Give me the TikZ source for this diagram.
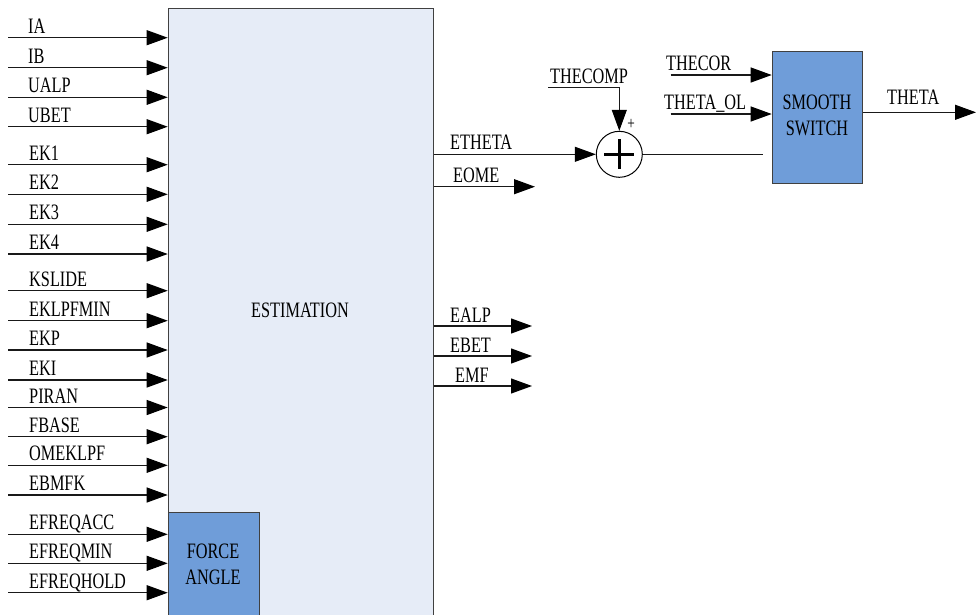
\documentclass[tikz,border=0pt]{standalone}
\usepackage{fontspec}
\setmainfont[FakeStretch=0.74]{Liberation Serif}
\usetikzlibrary{arrows.meta}
\definecolor{estfill}{HTML}{E6ECF7}
\definecolor{blkfill}{HTML}{6F9DD9}
\tikzset{blk/.style={rectangle, draw=black!75, line width=1pt, inner sep=0pt, anchor=north west}}
\tikzset{sig/.style={line width=1.1pt, draw=black!90, -{Triangle[length=21pt,width=15pt,color=black]}}}
\tikzset{wire/.style={line width=1.1pt, draw=black!90}}
\tikzset{lbl/.style={anchor=base west, inner sep=0pt, font=\fontsize{22}{26}\selectfont}}
\tikzset{blktext/.style={align=center, inner sep=0pt, font=\fontsize{22}{26}\selectfont}}

\begin{document}
\begin{tikzpicture}[x=1pt, y=-1pt]

    \clip (0,0) rectangle (976,614);

    % blocks
    \node[blk, fill=estfill, minimum width=265.6pt, minimum height=620pt] (est) at (167.7,8.3) {};
    \node[blktext] (est-t) at (300,310) {ESTIMATION};
    \node[blk, fill=blkfill, minimum width=91.3pt, minimum height=110pt] (force) at (167.7,511.7) {};
    \node[blktext] (force-t) at (213,564) {FORCE\\ANGLE};
    \node[blk, fill=blkfill, minimum width=90.6pt, minimum height=132pt] (sw) at (771.7,50.7) {};
    \node[blktext] (sw-t) at (817,115) {SMOOTH\\SWITCH};
    \node[circle, draw=black, fill=white, line width=1pt, minimum size=46pt, inner sep=0pt] (sum) at (619.3,154.3) {};
    \draw[line width=3pt] (sum.center) +(-15,0) -- +(15,0);
    \draw[line width=3pt] (sum.center) +(0,-15) -- +(0,15);
    \node[inner sep=0pt, font=\fontsize{18}{18}\selectfont] (sum-p) at (631,124) {+};

    % inputs of ESTIMATION
    \coordinate (IA) at (8,37.7);
    \coordinate (IB) at (8,67.7);
    \coordinate (UALP) at (8,97.3);
    \coordinate (UBET) at (8,126.7);
    \coordinate (EK1) at (8,164.7);
    \coordinate (EK2) at (8,194.3);
    \coordinate (EK3) at (8,224.3);
    \coordinate (EK4) at (8,254);
    \coordinate (KSLIDE) at (8,290.7);
    \coordinate (EKLPFMIN) at (8,320.7);
    \coordinate (EKP) at (8,350);
    \coordinate (EKI) at (8,380);
    \coordinate (PIRAN) at (8,407.5);
    \coordinate (FBASE) at (8,436.7);
    \coordinate (OMEKLPF) at (8,465.3);
    \coordinate (EBMFK) at (8,495);
    \coordinate (EFREQACC) at (8,534.3);
    \coordinate (EFREQMIN) at (8,563.3);
    \coordinate (EFREQHOLD) at (8,592.7);

    \draw[sig] (IA) -- (IA -| est.west);
    \draw[sig] (IB) -- (IB -| est.west);
    \draw[sig] (UALP) -- (UALP -| est.west);
    \draw[sig] (UBET) -- (UBET -| est.west);
    \draw[sig] (EK1) -- (EK1 -| est.west);
    \draw[sig] (EK2) -- (EK2 -| est.west);
    \draw[sig] (EK3) -- (EK3 -| est.west);
    \draw[sig] (EK4) -- (EK4 -| est.west);
    \draw[sig] (KSLIDE) -- (KSLIDE -| est.west);
    \draw[sig] (EKLPFMIN) -- (EKLPFMIN -| est.west);
    \draw[sig] (EKP) -- (EKP -| est.west);
    \draw[sig] (EKI) -- (EKI -| est.west);
    \draw[sig] (PIRAN) -- (PIRAN -| est.west);
    \draw[sig] (FBASE) -- (FBASE -| est.west);
    \draw[sig] (OMEKLPF) -- (OMEKLPF -| est.west);
    \draw[sig] (EBMFK) -- (EBMFK -| est.west);
    \draw[sig] (EFREQACC) -- (EFREQACC -| force.west);
    \draw[sig] (EFREQMIN) -- (EFREQMIN -| force.west);
    \draw[sig] (EFREQHOLD) -- (EFREQHOLD -| force.west);

    \node[lbl] (l-IA) at (28,33.2) {IA};
    \node[lbl] (l-IB) at (28,63.2) {IB};
    \node[lbl] (l-UALP) at (28,92.8) {UALP};
    \node[lbl] (l-UBET) at (28,122.2) {UBET};
    \node[lbl] (l-EK1) at (29,160.2) {EK1};
    \node[lbl] (l-EK2) at (29,189.8) {EK2};
    \node[lbl] (l-EK3) at (29,219.8) {EK3};
    \node[lbl] (l-EK4) at (29,249.5) {EK4};
    \node[lbl] (l-KSLIDE) at (29,286.2) {KSLIDE};
    \node[lbl] (l-EKLPFMIN) at (29,316.2) {EKLPFMIN};
    \node[lbl] (l-EKP) at (29,345.5) {EKP};
    \node[lbl] (l-EKI) at (29,375.5) {EKI};
    \node[lbl] (l-PIRAN) at (29,403) {PIRAN};
    \node[lbl] (l-FBASE) at (29,432.2) {FBASE};
    \node[lbl] (l-OMEKLPF) at (29,460.8) {OMEKLPF};
    \node[lbl] (l-EBMFK) at (29,490.5) {EBMFK};
    \node[lbl] (l-EFREQACC) at (29,529.8) {EFREQACC};
    \node[lbl] (l-EFREQMIN) at (29,558.8) {EFREQMIN};
    \node[lbl] (l-EFREQHOLD) at (29,588.2) {EFREQHOLD};

    % outputs of ESTIMATION
    \coordinate (eome) at (535,186.7);
    \coordinate (ealp) at (532,326);
    \coordinate (ebet) at (532,356);
    \coordinate (emf) at (532,386);

    \draw[sig] (est.east |- sum) -- (sum.west);
    \draw[sig] (est.east |- eome) -- (eome);
    \draw[sig] (est.east |- ealp) -- (ealp);
    \draw[sig] (est.east |- ebet) -- (ebet);
    \draw[sig] (est.east |- emf) -- (emf);

    \node[lbl] (l-ETHETA) at (450,149.5) {ETHETA};
    \node[lbl] (l-EOME) at (453,182.5) {EOME};
    \node[lbl] (l-EALP) at (450,322.5) {EALP};
    \node[lbl] (l-EBET) at (450,352.5) {EBET};
    \node[lbl] (l-EMF) at (455,382.5) {EMF};

    % angle path
    \coordinate (thecomp) at (548,87.3);
    \coordinate (sw-gap) at (763.3,154.3);
    \coordinate (thecor) at (670.7,75);
    \coordinate (theol) at (670.7,114);
    \coordinate (theta) at (976,112.3);

    \draw[sig] (thecomp) -| (sum.north);
    \draw[wire] (sum.east) -- (sw-gap);
    \draw[sig] (thecor) -- (thecor -| sw.west);
    \draw[sig] (theol) -- (theol -| sw.west);
    \draw[sig] (sw.east |- theta) -- (theta);

    \node[lbl] (l-THECOMP) at (550,83.5) {THECOMP};
    \node[lbl] (l-THECOR) at (666,70.5) {THECOR};
    \node[lbl] (l-THETAOL) at (664,109.5) {THETA\_OL};
    \node[lbl] (l-THETA) at (887,104) {THETA};

\end{tikzpicture}
\end{document}
